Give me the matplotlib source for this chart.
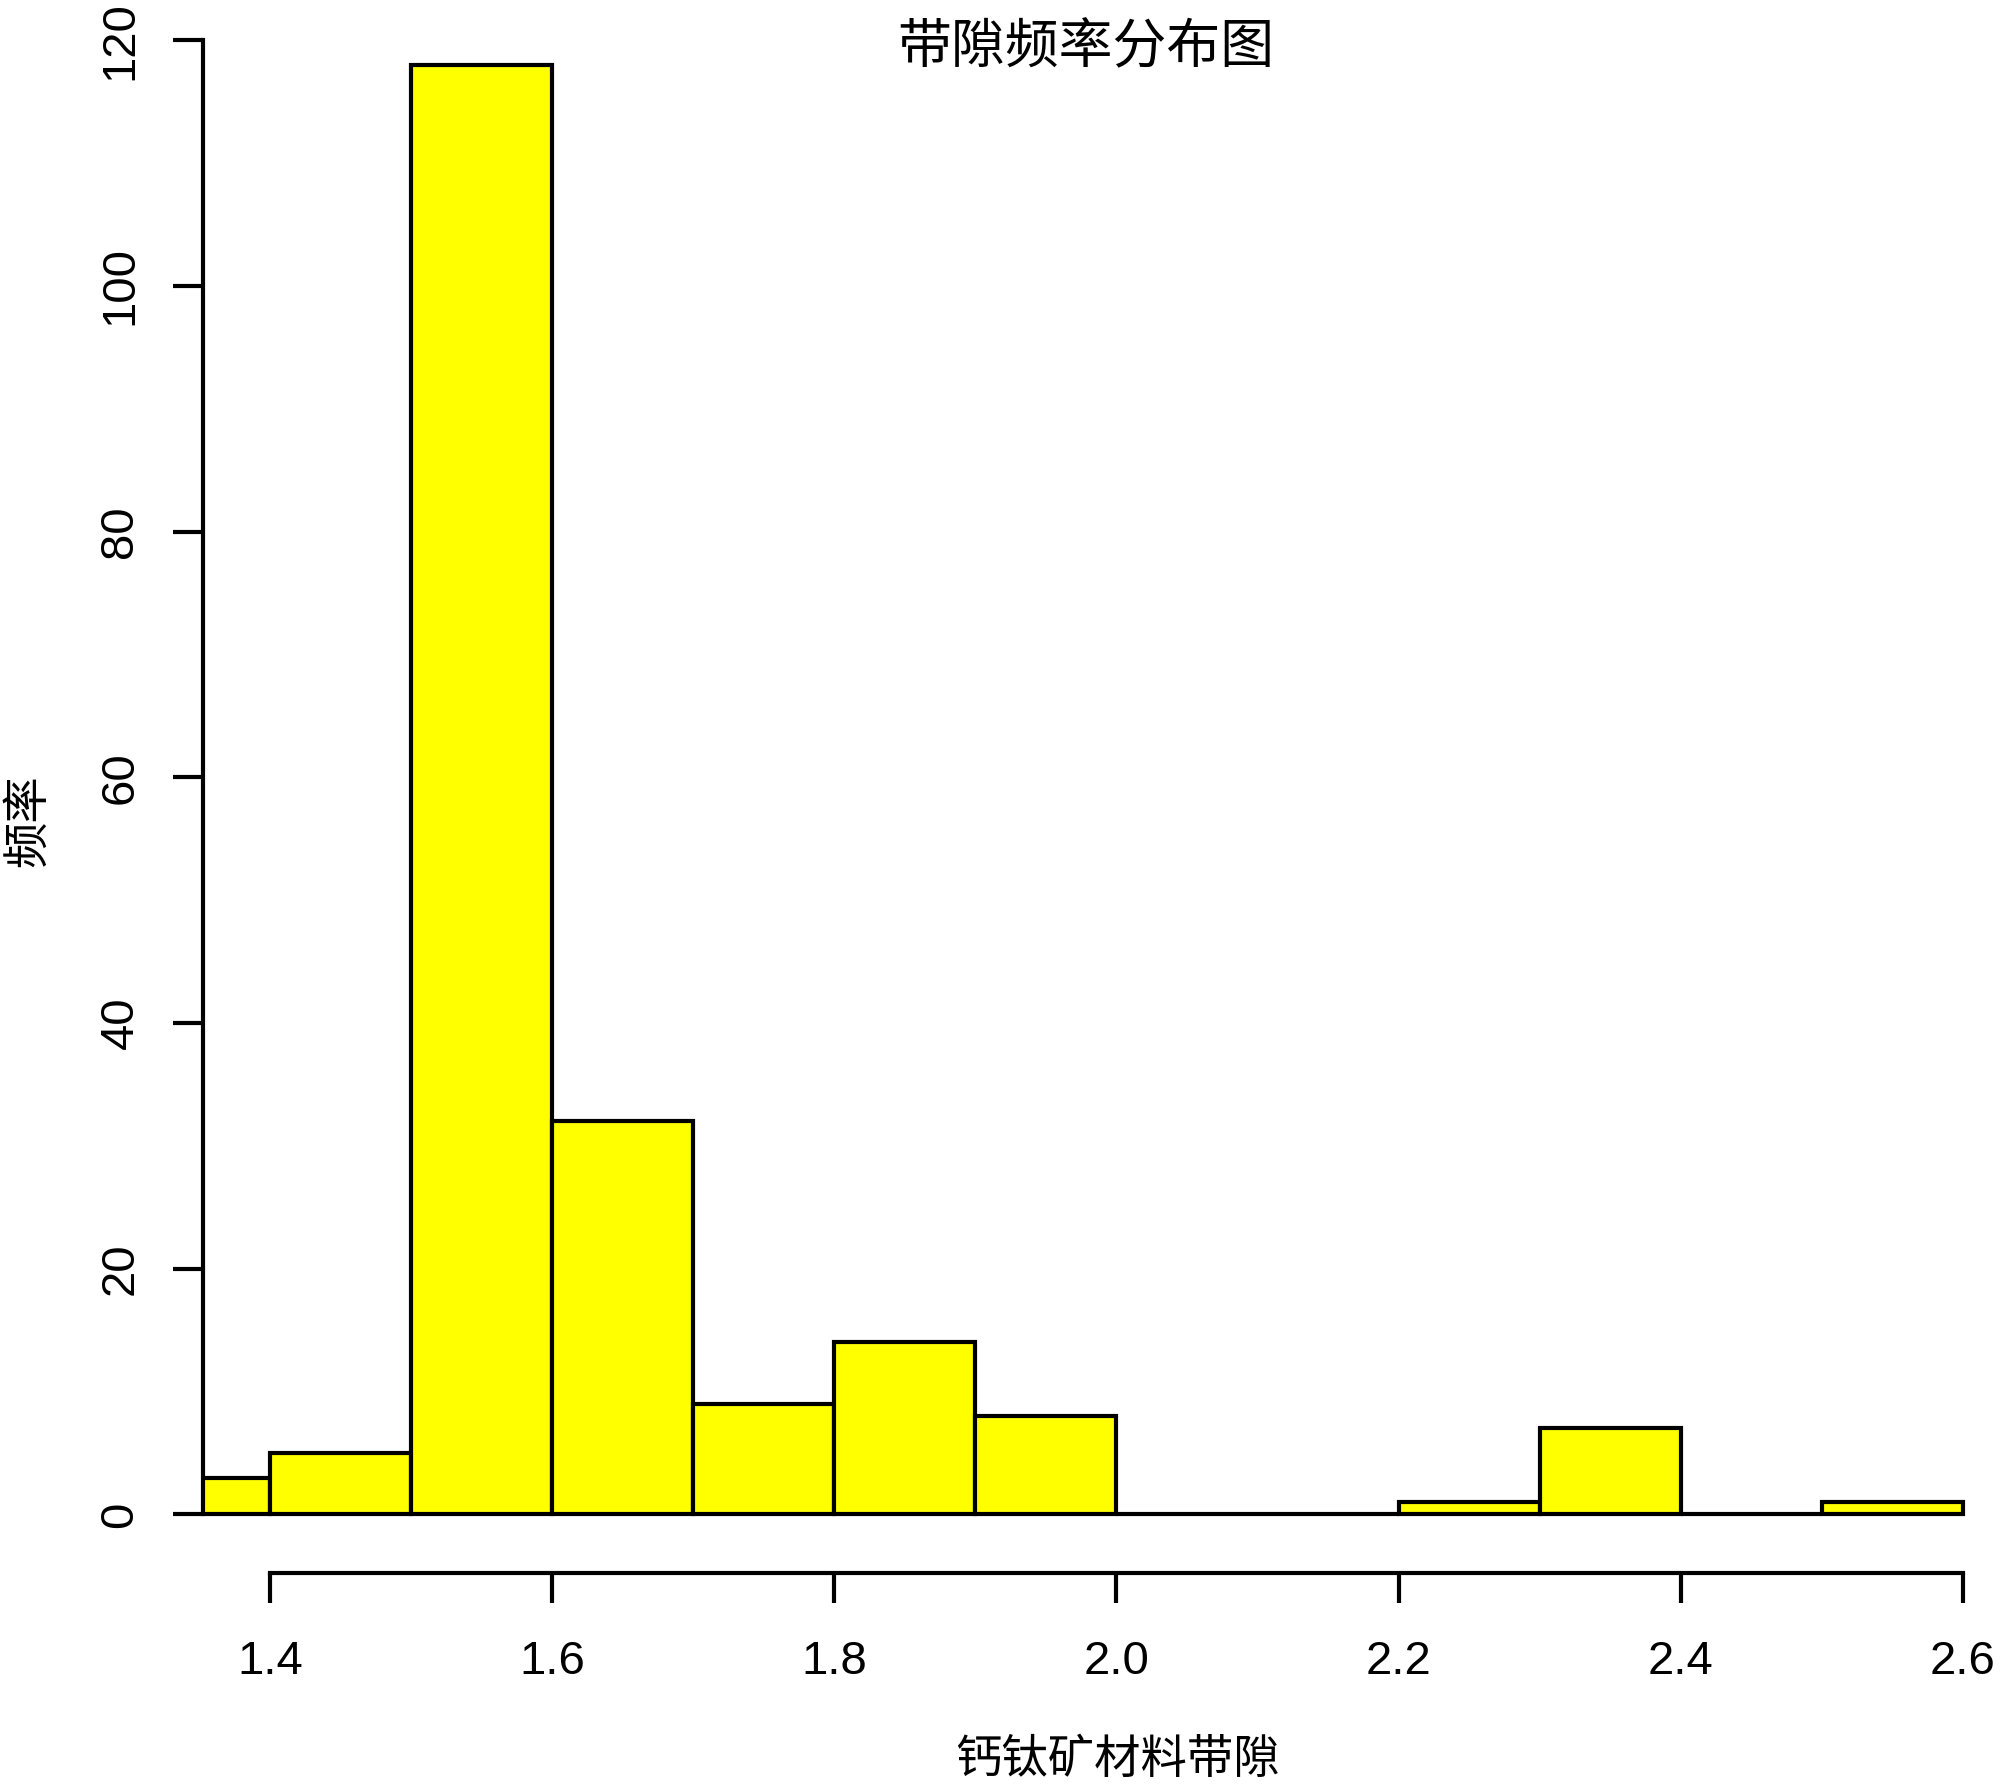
import matplotlib
matplotlib.use("Agg")
import matplotlib.pyplot as plt
import numpy as np

plt.rcParams["font.family"] = ["Liberation Sans", "Noto Sans CJK SC"]

# histogram data (bins of width 0.1)
bin_edges = [1.3, 1.4, 1.5, 1.6, 1.7, 1.8, 1.9, 2.0, 2.1, 2.2, 2.3, 2.4, 2.5, 2.6]
counts = [3, 5, 118, 32, 9, 14, 8, 0, 0, 1, 7, 0, 1]
x_ticks = [1.4, 1.6, 1.8, 2.0, 2.2, 2.4, 2.6]
y_ticks = [0, 20, 40, 60, 80, 100, 120]

title = "带隙频率分布图"
x_label = "钙钛矿材料带隙"
y_label = "频率"

cjk = ["Noto Sans CJK SC", "DejaVu Sans"]
lw = 1.5

fig = plt.figure(figsize=(10, 8.94), dpi=200)
ax = fig.add_axes([0.1015, 0.1200, 0.9135, 0.8905])

left = np.array(bin_edges[:-1])
widths = np.diff(bin_edges)
ax.bar(left, counts, width=widths, align="edge", color="#FFFF00",
       edgecolor="black", linewidth=lw)

ax.set_xlim(1.3525, 2.6475)
ax.set_ylim(-4.8, 124.8)

ax.spines["top"].set_visible(False)
ax.spines["right"].set_visible(False)
ax.spines["left"].set_bounds(0, 120)
ax.spines["bottom"].set_bounds(1.4, 2.6)
for s in ["left", "bottom"]:
    ax.spines[s].set_linewidth(lw)

ax.set_xticks(x_ticks)
ax.set_xticklabels([f"{v:.1f}" for v in x_ticks])
ax.set_yticks(y_ticks)
ax.set_yticklabels([str(v) for v in y_ticks], rotation=90, va="center")
ax.tick_params(axis="both", length=10.8, width=lw, labelsize=17, direction="out")
ax.tick_params(axis="x", pad=13)
ax.tick_params(axis="y", pad=11)

fig.text(0.543, 1 - 48 / 1788, title, family=cjk, fontsize=19.4,
         ha="center", va="center")
fig.text(1117 / 2000, 1 - 1760 / 1788, x_label, family=cjk, fontsize=16.7,
         ha="center", va="center")
fig.text(28 / 2000, 1 - 821 / 1788, y_label, family=cjk, fontsize=16.7,
         ha="center", va="center", rotation=90)

fig.savefig("out.png", dpi=200)
